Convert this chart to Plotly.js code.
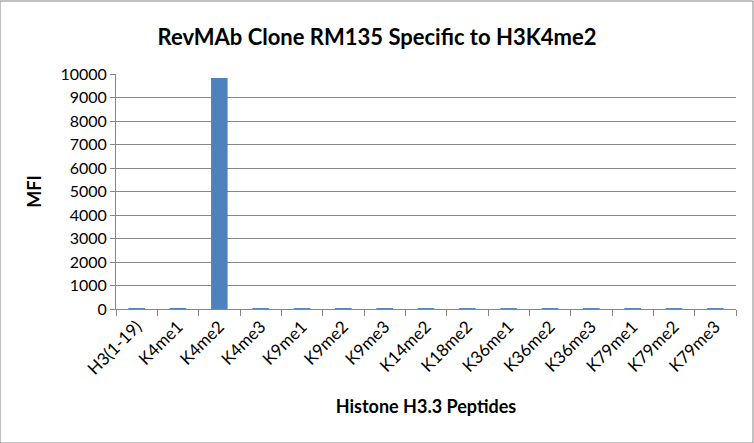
<!DOCTYPE html>
<html>
<head>
<meta charset="utf-8">
<script src="https://cdn.plot.ly/plotly-3.0.1.min.js"></script>
<style>
  html, body { margin: 0; padding: 0; background: #fff; }
  #chart { width: 754px; height: 443px; }
</style>
</head>
<body>
<div id="chart"></div>
<script>
// peptides on the array
var peptides = ['H3(1-19)', 'K4me1', 'K4me2', 'K4me3', 'K9me1', 'K9me2', 'K9me3',
  'K14me2', 'K18me2', 'K36me1', 'K36me2', 'K36me3', 'K79me1', 'K79me2', 'K79me3'];

// MFI
var mfi = [40, 45, 9830, 40, 40, 40, 40, 40, 40, 40, 40, 40, 40, 40, 40];

var yTicks = [0, 1000, 2000, 3000, 4000, 5000, 6000, 7000, 8000, 9000, 10000];

var font_name = 'Lato, "Open Sans", sans-serif';

var trace_1 = {
  x: peptides,
  y: mfi,
  type: 'bar',
  marker: { color: '#4f81bd' },
  hoverinfo: 'none'
};

var layout = {
  width: 754,
  height: 443,
  margin: { l: 116, r: 18, t: 74, b: 134 },
  paper_bgcolor: '#fff',
  plot_bgcolor: '#fff',
  bargap: 0.6,
  showlegend: false,
  font: { family: font_name, color: '#000' },
  title: {
    text: '<b>RevMAb Clone RM135 Specific to H3K4me2</b>',
    font: { size: 22, family: font_name },
    x: 0.5, xanchor: 'center',
    y: 0.915, yanchor: 'middle'
  },
  xaxis: {
    type: 'category',
    tickangle: -45,
    tickson: 'boundaries',
    ticks: 'outside',
    ticklen: 6,
    tickcolor: '#868686',
    showline: true,
    linecolor: '#868686',
    showgrid: false,
    tickfont: { size: 17 },
    title: {
      text: '<b>Histone H3.3 Peptides</b>',
      font: { size: 18 },
      standoff: 22
    }
  },
  yaxis: {
    range: [0, 10000],
    tickvals: yTicks,
    ticktext: yTicks.map(String),
    ticks: 'outside',
    ticklen: 5,
    tickcolor: '#868686',
    showline: true,
    linecolor: '#868686',
    showgrid: true,
    gridcolor: '#868686',
    zeroline: false,
    tickfont: { size: 16 },
    title: {
      text: '<b>MFI</b>',
      font: { size: 18 },
      standoff: 14
    }
  },
  shapes: [{
    type: 'rect', xref: 'paper', yref: 'paper',
    x0: -116 / 620, x1: 1 + 17 / 620, y0: -134 / 235, y1: 1 + 73 / 235,
    line: { color: '#868686', width: 1 }
  }]
};

Plotly.newPlot('chart', [trace_1], layout, { displayModeBar: false, staticPlot: true });
</script>
</body>
</html>
